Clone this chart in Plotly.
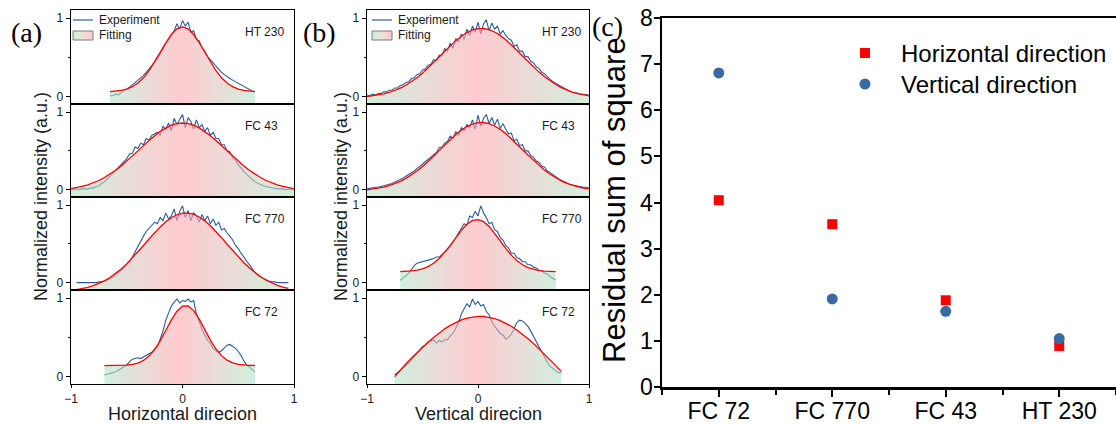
import plotly.graph_objects as go

W, H = 1116, 425
SANS = "Arial, Liberation Sans, sans-serif"
SERIF = "Times New Roman, Liberation Serif, serif"

# ---------------- data ----------------
EXP_GRID = [-1.0, -0.975, -0.95, -0.925, -0.9, -0.875, -0.85, -0.825, -0.8, -0.775,
            -0.75, -0.725, -0.7, -0.675, -0.65, -0.625, -0.6, -0.575, -0.55, -0.525,
            -0.5, -0.475, -0.45, -0.425, -0.4, -0.375, -0.35, -0.325, -0.3, -0.275,
            -0.25, -0.225, -0.2, -0.175, -0.15, -0.125, -0.1, -0.075, -0.05, -0.025,
            0.0, 0.025, 0.05, 0.075, 0.1, 0.125, 0.15, 0.175, 0.2, 0.225,
            0.25, 0.275, 0.3, 0.325, 0.35, 0.375, 0.4, 0.425, 0.45, 0.475,
            0.5, 0.525, 0.55, 0.575, 0.6, 0.625, 0.65, 0.675, 0.7, 0.725,
            0.75, 0.775, 0.8, 0.825, 0.85, 0.875, 0.9, 0.925, 0.95, 0.975, 1.0]
FIT_GRID = [-1.0, -0.95, -0.9, -0.85, -0.8, -0.75, -0.7, -0.65, -0.6, -0.55,
            -0.5, -0.45, -0.4, -0.35, -0.3, -0.25, -0.2, -0.15, -0.1, -0.05,
            0.0, 0.05, 0.1, 0.15, 0.2, 0.25, 0.3, 0.35, 0.4, 0.45,
            0.5, 0.55, 0.6, 0.65, 0.7, 0.75, 0.8, 0.85, 0.9, 0.95, 1.0]

PANEL_NAMES = ["HT 230", "FC 43", "FC 770", "FC 72"]

# (a) horizontal direction
A_HT230_EXP_START = -0.65
A_HT230_EXP = [0.01, 0.01, 0.03, 0.02, 0.05, 0.07, 0.10, 0.12, 0.15, 0.18,
               0.20, 0.23, 0.27, 0.31, 0.35, 0.39, 0.44, 0.48, 0.55, 0.60,
               0.67, 0.72, 0.78, 0.84, 0.93, 0.86, 0.97, 0.90, 0.95, 0.82,
               0.84, 0.73, 0.71, 0.62, 0.58, 0.51, 0.47, 0.42, 0.38, 0.34,
               0.31, 0.28, 0.25, 0.23, 0.21, 0.19, 0.17, 0.15, 0.12, 0.10,
               0.08, 0.07, 0.06]
A_HT230_FIT_START = -0.65
A_HT230_FIT = [0.064, 0.069, 0.079, 0.096, 0.126, 0.172, 0.239, 0.330, 0.440, 0.564, 0.687, 0.792,
               0.864, 0.890, 0.864, 0.792, 0.687, 0.564, 0.440, 0.330, 0.239, 0.172, 0.126,
               0.096, 0.079, 0.069, 0.064]

A_FC43_EXP_START = -1.0
A_FC43_EXP = [0.01, 0.00, 0.01, 0.00, 0.01, 0.01, 0.01, 0.02, 0.02, 0.04,
              0.05, 0.08, 0.10, 0.14, 0.17, 0.21, 0.25, 0.29, 0.33, 0.37,
              0.40, 0.46, 0.47, 0.55, 0.53, 0.60, 0.58, 0.66, 0.64, 0.70,
              0.72, 0.74, 0.70, 0.82, 0.78, 0.86, 0.76, 0.92, 0.84, 0.90,
              0.97, 0.80, 0.93, 0.88, 0.78, 0.90, 0.80, 0.84, 0.75, 0.80,
              0.70, 0.74, 0.66, 0.66, 0.58, 0.58, 0.50, 0.49, 0.41, 0.38,
              0.32, 0.28, 0.23, 0.20, 0.16, 0.13, 0.10, 0.08, 0.06, 0.05,
              0.04, 0.03, 0.02, 0.02, 0.01, 0.01, 0.01, 0.00, 0.01, 0.00, 0.01]
A_FC43_FIT_START = -1.0
A_FC43_FIT = [0.013, 0.025, 0.041, 0.062, 0.087, 0.118, 0.156, 0.199, 0.249, 0.305, 0.367,
              0.432, 0.500, 0.568, 0.635, 0.696, 0.752, 0.797, 0.832, 0.853, 0.860,
              0.853, 0.832, 0.797, 0.752, 0.696, 0.635, 0.568, 0.500, 0.432, 0.367,
              0.305, 0.249, 0.199, 0.156, 0.118, 0.087, 0.062, 0.041, 0.025, 0.013]

A_FC770_EXP_START = -0.95
A_FC770_EXP = [0.00, 0.00, 0.00, 0.00, 0.00, 0.00, 0.00, 0.00, 0.01, 0.01,
               0.02, 0.03, 0.05, 0.07, 0.10, 0.12, 0.16, 0.19, 0.24, 0.27,
               0.33, 0.40, 0.48, 0.55, 0.60, 0.66, 0.70, 0.74, 0.78, 0.76,
               0.84, 0.80, 0.90, 0.82, 0.86, 0.95, 0.80, 0.92, 0.99, 0.84,
               0.93, 0.80, 0.90, 0.86, 0.78, 0.88, 0.80, 0.86, 0.76, 0.82,
               0.74, 0.78, 0.68, 0.70, 0.64, 0.60, 0.55, 0.48, 0.44, 0.38,
               0.33, 0.27, 0.22, 0.17, 0.13, 0.09, 0.07, 0.05, 0.04, 0.02,
               0.01, 0.01, 0.00, 0.00, 0.00, 0.00, 0.00]
A_FC770_FIT_START = -0.95
A_FC770_FIT = [-0.090, -0.078, -0.061, -0.039, -0.012, 0.023, 0.066, 0.117, 0.176, 0.242,
               0.317, 0.396, 0.479, 0.563, 0.644, 0.719, 0.785, 0.838, 0.876, 0.897,
               0.898, 0.882, 0.847, 0.797, 0.734, 0.660, 0.580, 0.496, 0.412, 0.332,
               0.257, 0.188, 0.128, 0.075, 0.031, -0.005, -0.034, -0.057, -0.075]

A_FC72_EXP_START = -0.7
A_FC72_EXP = [0.02, 0.03, 0.04, 0.05, 0.06, 0.08, 0.10, 0.12, 0.15, 0.19,
              0.22, 0.23, 0.24, 0.23, 0.25, 0.26, 0.28, 0.31, 0.35, 0.38,
              0.48, 0.58, 0.72, 0.82, 0.90, 0.95, 0.99, 0.94, 0.97, 0.96,
              0.99, 0.95, 0.97, 0.80, 0.70, 0.60, 0.53, 0.46, 0.42, 0.36,
              0.33, 0.31, 0.33, 0.37, 0.40, 0.41, 0.39, 0.36, 0.32, 0.27,
              0.20, 0.15, 0.12, 0.09, 0.06]
A_FC72_FIT_START = -0.7
A_FC72_FIT = [0.140, 0.140, 0.141, 0.142, 0.146, 0.155, 0.173, 0.206, 0.261, 0.344,
              0.456, 0.588, 0.723, 0.835, 0.900, 0.903, 0.842, 0.733, 0.599, 0.466,
              0.352, 0.267, 0.209, 0.175, 0.156, 0.147, 0.143, 0.141]

# (b) vertical direction
B_HT230_EXP_START = -1.0
B_HT230_EXP = [0.02, 0.01, 0.03, 0.02, 0.04, 0.04, 0.06, 0.06, 0.08, 0.08,
               0.11, 0.11, 0.14, 0.15, 0.18, 0.19, 0.23, 0.24, 0.28, 0.29,
               0.34, 0.35, 0.40, 0.41, 0.47, 0.46, 0.53, 0.52, 0.61, 0.58,
               0.68, 0.62, 0.74, 0.70, 0.80, 0.73, 0.86, 0.78, 0.90, 0.82,
               0.95, 0.80, 0.93, 0.98, 0.84, 0.94, 0.86, 0.90, 0.80, 0.84,
               0.78, 0.74, 0.72, 0.64, 0.66, 0.58, 0.58, 0.51, 0.51, 0.45,
               0.43, 0.38, 0.36, 0.31, 0.29, 0.25, 0.22, 0.19, 0.17, 0.14,
               0.12, 0.10, 0.08, 0.07, 0.05, 0.05, 0.04, 0.03, 0.03, 0.02, 0.02]
B_HT230_FIT_START = -1.0
B_HT230_FIT = [-0.002, 0.007, 0.018, 0.033, 0.052, 0.077, 0.107, 0.145, 0.189, 0.241,
               0.299, 0.364, 0.433, 0.505, 0.578, 0.649, 0.714, 0.771, 0.817, 0.850,
               0.867, 0.869, 0.854, 0.824, 0.781, 0.726, 0.662, 0.592, 0.520, 0.447,
               0.378, 0.312, 0.252, 0.199, 0.153, 0.114, 0.082, 0.057, 0.036, 0.021, 0.009]

B_FC43_EXP_START = -1.0
B_FC43_EXP = [0.01, 0.02, 0.02, 0.03, 0.03, 0.04, 0.05, 0.06, 0.07, 0.08,
              0.10, 0.11, 0.13, 0.15, 0.17, 0.19, 0.22, 0.24, 0.27, 0.30,
              0.33, 0.36, 0.40, 0.43, 0.46, 0.48, 0.54, 0.55, 0.60, 0.62,
              0.69, 0.66, 0.75, 0.70, 0.80, 0.76, 0.84, 0.80, 0.90, 0.78,
              0.96, 0.82, 0.92, 0.97, 0.85, 0.93, 0.83, 0.91, 0.79, 0.85,
              0.78, 0.72, 0.73, 0.63, 0.65, 0.57, 0.58, 0.50, 0.50, 0.44,
              0.42, 0.37, 0.35, 0.30, 0.29, 0.24, 0.22, 0.19, 0.17, 0.14,
              0.12, 0.10, 0.08, 0.07, 0.06, 0.05, 0.04, 0.04, 0.03, 0.03, 0.02]
B_FC43_FIT_START = -1.0
B_FC43_FIT = [-0.002, 0.007, 0.018, 0.033, 0.052, 0.077, 0.107, 0.145, 0.189, 0.240,
              0.298, 0.362, 0.431, 0.503, 0.575, 0.646, 0.711, 0.768, 0.814, 0.847,
              0.864, 0.866, 0.851, 0.821, 0.778, 0.723, 0.659, 0.590, 0.518, 0.446,
              0.377, 0.311, 0.251, 0.198, 0.152, 0.114, 0.082, 0.057, 0.036, 0.021, 0.009]

B_FC770_EXP_START = -0.7
B_FC770_EXP = [0.03, 0.06, 0.09, 0.12, 0.17, 0.22, 0.25, 0.26, 0.27, 0.28,
               0.28, 0.30, 0.31, 0.33, 0.33, 0.36, 0.38, 0.42, 0.46, 0.53,
               0.58, 0.64, 0.70, 0.76, 0.74, 0.86, 0.84, 0.92, 0.86, 0.99,
               0.90, 0.84, 0.76, 0.78, 0.68, 0.66, 0.58, 0.55, 0.48, 0.45,
               0.38, 0.38, 0.32, 0.31, 0.27, 0.27, 0.23, 0.23, 0.20, 0.19,
               0.16, 0.15, 0.12, 0.11, 0.08, 0.06, 0.03]
B_FC770_FIT_START = -0.7
B_FC770_FIT = [0.142, 0.145, 0.151, 0.161, 0.179, 0.207, 0.250, 0.310, 0.388, 0.480,
               0.579, 0.675, 0.753, 0.802, 0.814, 0.787, 0.725, 0.637, 0.539, 0.442,
               0.355, 0.284, 0.231, 0.194, 0.171, 0.156, 0.148, 0.144, 0.142]

B_FC72_EXP_START = -0.75
B_FC72_EXP = [0.02, 0.05, 0.07, 0.10, 0.14, 0.17, 0.21, 0.25, 0.29, 0.33,
              0.38, 0.40, 0.44, 0.45, 0.47, 0.43, 0.46, 0.44, 0.47, 0.47,
              0.52, 0.55, 0.63, 0.69, 0.80, 0.86, 0.93, 0.89, 0.99, 0.92,
              0.96, 0.90, 0.92, 0.83, 0.79, 0.70, 0.64, 0.60, 0.55, 0.53,
              0.48, 0.50, 0.54, 0.61, 0.69, 0.72, 0.71, 0.68, 0.64, 0.58,
              0.51, 0.45, 0.38, 0.31, 0.24, 0.18, 0.13, 0.10, 0.07, 0.05, 0.05]
B_FC72_FIT_START = -0.75
B_FC72_FIT = [0.000, 0.087, 0.161, 0.233, 0.305, 0.373, 0.439, 0.500, 0.557, 0.609,
              0.654, 0.692, 0.723, 0.747, 0.762, 0.769, 0.768, 0.759, 0.741, 0.715,
              0.682, 0.642, 0.595, 0.542, 0.483, 0.421, 0.354, 0.285, 0.213, 0.140, 0.066]

# (c) residual sum of squares
CATEGORIES = ["FC 72", "FC 770", "FC 43", "HT 230"]
RSS_HORIZONTAL = [4.05, 3.53, 1.88, 0.89]
RSS_VERTICAL = [6.81, 1.91, 1.64, 1.05]
SERIES_NAMES = ["Horizontal direction", "Vertical direction"]

# ---------------- styles ----------------
EXP_COLOR = "#2c5d9a"
FIT_COLOR = "#ff0000"
BLUE_MARK = "#3a6aa3"
RED_MARK = "#ff0000"
FILL_SCALE = [[0.0, "rgba(175,228,196,0.58)"], [0.5, "rgba(255,165,174,0.58)"],
              [1.0, "rgba(175,228,196,0.58)"]]
FILL_BASE = -0.3
Y_RANGE = [-0.095, 1.105]
ROW_EDGES = [10, 104, 197, 290, 384]
COL_X = {"a": (71, 294), "b": (367, 589)}
TXT = "#1a1a1a"


def px_x(v):
    return v / W


def px_y(v):
    return 1 - v / H


def span(grid, start, values):
    i = grid.index(start)
    return grid[i:i + len(values)]


COLUMNS = {
    "a": [(A_HT230_EXP_START, A_HT230_EXP, A_HT230_FIT_START, A_HT230_FIT),
          (A_FC43_EXP_START, A_FC43_EXP, A_FC43_FIT_START, A_FC43_FIT),
          (A_FC770_EXP_START, A_FC770_EXP, A_FC770_FIT_START, A_FC770_FIT),
          (A_FC72_EXP_START, A_FC72_EXP, A_FC72_FIT_START, A_FC72_FIT)],
    "b": [(B_HT230_EXP_START, B_HT230_EXP, B_HT230_FIT_START, B_HT230_FIT),
          (B_FC43_EXP_START, B_FC43_EXP, B_FC43_FIT_START, B_FC43_FIT),
          (B_FC770_EXP_START, B_FC770_EXP, B_FC770_FIT_START, B_FC770_FIT),
          (B_FC72_EXP_START, B_FC72_EXP, B_FC72_FIT_START, B_FC72_FIT)],
}

fig = go.Figure()
layout = dict(width=W, height=H, autosize=False, margin=dict(l=0, r=0, t=0, b=0, pad=0),
              paper_bgcolor="white", plot_bgcolor="white", hovermode=False, showlegend=False,
              font=dict(family=SANS, color=TXT))
annotations = []
shapes = []


def ax_name(k, letter):
    return f"{letter}axis" if k == 1 else f"{letter}axis{k}"


def ax_ref(k, letter):
    return letter if k == 1 else f"{letter}{k}"


for ci, col in enumerate(["a", "b"]):
    x0, x1 = COL_X[col]
    for r, (es, ev, fs, fv) in enumerate(COLUMNS[col]):
        k = ci * 4 + r + 1
        xr, yr = ax_ref(k, "x"), ax_ref(k, "y")
        ex = span(EXP_GRID, es, ev)
        fx = span(FIT_GRID, fs, fv)
        fig.add_trace(go.Scatter(x=ex, y=ev, mode="lines", xaxis=xr, yaxis=yr,
                                 line=dict(color=EXP_COLOR, width=1.1),
                                 showlegend=False, hoverinfo="skip"))
        fig.add_trace(go.Scatter(x=fx + fx[::-1], y=fv + [FILL_BASE] * len(fx),
                                 mode="lines", fill="toself", xaxis=xr, yaxis=yr,
                                 line=dict(width=0), fillcolor="rgba(250,200,205,0.5)",
                                 fillgradient=dict(type="horizontal", colorscale=FILL_SCALE),
                                 showlegend=False, hoverinfo="skip"))
        fig.add_trace(go.Scatter(x=fx, y=fv, mode="lines", xaxis=xr, yaxis=yr,
                                 line=dict(color=FIT_COLOR, width=1.3),
                                 showlegend=False, hoverinfo="skip"))
        bottom = r == 3
        layout[ax_name(k, "x")] = dict(
            domain=[px_x(x0), px_x(x1)], range=[-1, 1], anchor=yr, automargin=False,
            showline=True, mirror=True, linecolor="black", linewidth=1.3,
            showgrid=False, zeroline=False, tickvals=[-1, 0, 1],
            ticks="outside" if bottom else "", ticklen=3, tickwidth=1, tickcolor="black",
            showticklabels=bottom, tickfont=dict(size=12, color=TXT, family=SANS))
        layout[ax_name(k, "y")] = dict(
            domain=[px_y(ROW_EDGES[r + 1]), px_y(ROW_EDGES[r])], range=Y_RANGE, anchor=xr,
            automargin=False,
            showline=True, mirror=True, linecolor="black", linewidth=1.3,
            showgrid=False, zeroline=False, tickvals=[0, 1],
            ticks="outside", ticklen=4, tickwidth=1, tickcolor="black",
            minor=dict(tickvals=[0.5], ticks="outside", ticklen=2, tickcolor="black"),
            tickfont=dict(size=12, color=TXT, family=SANS))
        lx = 243 if col == "a" else 540
        annotations.append(dict(text=PANEL_NAMES[r], xref="paper", yref="paper",
                                x=px_x(lx), y=px_y(ROW_EDGES[r] + 22), xanchor="left",
                                yanchor="middle", showarrow=False,
                                font=dict(size=12, color=TXT, family=SANS)))
    annotations.append(dict(text="Normalized intensity (a.u.)", xref="paper", yref="paper",
                            x=px_x(41 if col == "a" else 341), y=px_y(197), textangle=-90,
                            xanchor="center", yanchor="middle", showarrow=False,
                            font=dict(size=18, color=TXT, family=SANS)))
    annotations.append(dict(text="Horizontal direcion" if col == "a" else "Vertical direcion",
                            xref="paper", yref="paper", x=px_x((x0 + x1) / 2), y=px_y(414),
                            xanchor="center", yanchor="middle", showarrow=False,
                            font=dict(size=18, color=TXT, family=SANS)))
    lx0 = 73 if col == "a" else 372
    shapes.append(dict(type="line", xref="paper", yref="paper",
                       x0=px_x(lx0), x1=px_x(lx0 + 20), y0=px_y(20), y1=px_y(20),
                       line=dict(color=EXP_COLOR, width=1.2)))
    strip_cols = ["#d3ecdb", "#e4e6d9", "#f4d9d7", "#fbcfd2"]
    for si, sc in enumerate(strip_cols):
        shapes.append(dict(type="rect", xref="paper", yref="paper",
                           x0=px_x(lx0 + si * 5), x1=px_x(lx0 + (si + 1) * 5),
                           y0=px_y(40), y1=px_y(31), fillcolor=sc, line=dict(width=0)))
    shapes.append(dict(type="rect", xref="paper", yref="paper",
                       x0=px_x(lx0), x1=px_x(lx0 + 20), y0=px_y(40), y1=px_y(31),
                       fillcolor="rgba(0,0,0,0)", line=dict(color="#7a7a7a", width=1)))
    for txt, yy in (("Experiment", 20), ("Fitting", 35)):
        annotations.append(dict(text=txt, xref="paper", yref="paper", x=px_x(lx0 + 24),
                                y=px_y(yy), xanchor="left", yanchor="middle", showarrow=False,
                                font=dict(size=12, color=TXT, family=SANS)))

# ---------------- panel (c) ----------------
cat_pos = list(range(len(CATEGORIES)))
fig.add_trace(go.Scatter(x=cat_pos, y=RSS_HORIZONTAL, mode="markers", name=SERIES_NAMES[0],
                         xaxis="x9", yaxis="y9", showlegend=False,
                         marker=dict(symbol="square", size=10, color=RED_MARK), hoverinfo="skip"))
fig.add_trace(go.Scatter(x=cat_pos, y=RSS_VERTICAL, mode="markers", name=SERIES_NAMES[1],
                         xaxis="x9", yaxis="y9", showlegend=False,
                         marker=dict(symbol="circle", size=11, color=BLUE_MARK), hoverinfo="skip"))
layout["xaxis9"] = dict(domain=[px_x(662), 1.0], range=[-0.5, len(CATEGORIES) - 0.5], anchor="y9",
                        automargin=False,
                        showline=True, mirror=True, linecolor="black", linewidth=2.5,
                        showgrid=False, zeroline=False, tickvals=cat_pos, ticktext=CATEGORIES,
                        ticks="outside", ticklen=7, tickwidth=2, tickcolor="black",
                        ticklabelstandoff=-5,
                        minor=dict(tick0=-0.5, dtick=1, ticks="outside", ticklen=5, tickwidth=2,
                                   tickcolor="black"),
                        tickfont=dict(size=23, color="black", family=SANS))
layout["yaxis9"] = dict(domain=[px_y(387), px_y(18)], range=[0, 8], anchor="x9",
                        automargin=False,
                        showline=True, mirror=False, linecolor="black", linewidth=2.5,
                        showgrid=False, zeroline=False, dtick=1,
                        ticks="outside", ticklen=6, tickwidth=2, tickcolor="black",
                        ticklabelstandoff=-4,
                        tickfont=dict(size=23, color="black", family=SANS))
annotations.append(dict(text="Residual sum of square", xref="paper", yref="paper",
                        x=px_x(614), y=px_y(200), textangle=-90, xanchor="center",
                        yanchor="middle", showarrow=False,
                        font=dict(size=31, color="black", family=SANS)))

# legend of panel (c)
shapes.append(dict(type="rect", xref="paper", yref="paper",
                   x0=px_x(860), x1=px_x(870), y0=px_y(58), y1=px_y(48),
                   fillcolor=RED_MARK, line=dict(width=0)))
shapes.append(dict(type="circle", xref="paper", yref="paper",
                   x0=px_x(859.5), x1=px_x(870.5), y0=px_y(89.5), y1=px_y(78.5),
                   fillcolor=BLUE_MARK, line=dict(width=0)))
for name, yy in zip(SERIES_NAMES, (53, 84)):
    annotations.append(dict(text=name, xref="paper", yref="paper", x=px_x(899), y=px_y(yy),
                            xanchor="left", yanchor="middle", showarrow=False,
                            font=dict(size=24, color="black", family=SANS)))

for txt, cx, cy in (("(a)", 26, 33), ("(b)", 319, 33), ("(c)", 607, 27)):
    annotations.append(dict(text=txt, xref="paper", yref="paper", x=px_x(cx), y=px_y(cy),
                            xanchor="center", yanchor="middle", showarrow=False,
                            font=dict(size=28, color="black", family=SERIF)))

layout["annotations"] = annotations
layout["shapes"] = shapes
fig.update_layout(**layout)
fig.write_html("out.html", config={"displayModeBar": False, "staticPlot": True},
               post_script="document.body.style.margin='0';document.body.style.padding='0';"
                           "document.documentElement.style.overflow='hidden';")
